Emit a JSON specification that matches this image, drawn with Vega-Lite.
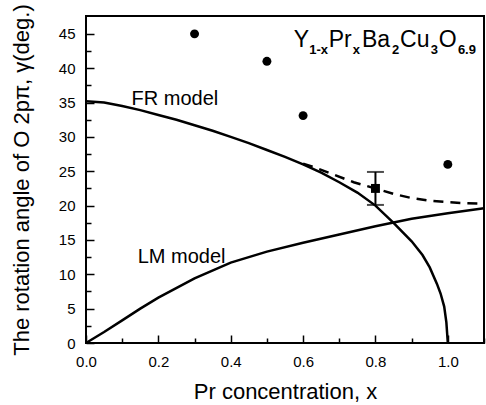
{
  "$schema": "https://vega.github.io/schema/vega-lite/v6.json",
  "width": 398,
  "height": 327,
  "autosize": {"type": "none"},
  "padding": {"left": 86, "top": 16, "right": 2, "bottom": 62},
  "background": "white",
  "config": {
    "font": "Liberation Sans",
    "view": {"stroke": "black", "strokeWidth": 2, "fill": "transparent"},
    "axis": {
      "labelColor": "black",
      "labelFont": "Liberation Sans",
      "labelFontSize": 15,
      "labelFlush": false,
      "titleColor": "black",
      "titleFont": "Liberation Sans",
      "titleFontSize": 22,
      "titleFontWeight": "normal"
    }
  },
  "datasets": {
    "fr": [
      {"x": 0.0, "y": 35.2}, {"x": 0.05, "y": 35.0}, {"x": 0.1, "y": 34.5}, {"x": 0.15, "y": 33.9},
      {"x": 0.2, "y": 33.2}, {"x": 0.25, "y": 32.5}, {"x": 0.3, "y": 31.7}, {"x": 0.35, "y": 30.9},
      {"x": 0.4, "y": 30.0}, {"x": 0.45, "y": 29.1}, {"x": 0.5, "y": 28.1}, {"x": 0.55, "y": 27.1},
      {"x": 0.6, "y": 26.0}, {"x": 0.65, "y": 24.8}, {"x": 0.7, "y": 23.4}, {"x": 0.75, "y": 21.9},
      {"x": 0.8, "y": 20.0}, {"x": 0.85, "y": 17.5}, {"x": 0.9, "y": 14.8}, {"x": 0.93, "y": 12.8},
      {"x": 0.95, "y": 11.0}, {"x": 0.97, "y": 8.6}, {"x": 0.98, "y": 7.2}, {"x": 0.99, "y": 5.3},
      {"x": 0.996, "y": 3.0}, {"x": 1.0, "y": 0.0}
    ],
    "frdash": [
      {"x": 0.6, "y": 26.1}, {"x": 0.63, "y": 25.6}, {"x": 0.68, "y": 24.6}, {"x": 0.74, "y": 23.4},
      {"x": 0.8, "y": 22.5}, {"x": 0.85, "y": 21.7}, {"x": 0.9, "y": 21.1}, {"x": 0.95, "y": 20.7},
      {"x": 1.0, "y": 20.5}, {"x": 1.05, "y": 20.35}, {"x": 1.1, "y": 20.3}
    ],
    "lm": [
      {"x": 0.0, "y": 0.0}, {"x": 0.05, "y": 1.6}, {"x": 0.1, "y": 3.3}, {"x": 0.15, "y": 5.0},
      {"x": 0.2, "y": 6.6}, {"x": 0.3, "y": 9.4}, {"x": 0.4, "y": 11.7}, {"x": 0.5, "y": 13.3},
      {"x": 0.6, "y": 14.6}, {"x": 0.7, "y": 15.8}, {"x": 0.8, "y": 17.0}, {"x": 0.9, "y": 18.1},
      {"x": 1.0, "y": 18.9}, {"x": 1.1, "y": 19.6}
    ],
    "pts": [
      {"x": 0.3, "y": 45.0}, {"x": 0.5, "y": 41.0}, {"x": 0.6, "y": 33.1}, {"x": 1.0, "y": 26.0}
    ],
    "sq": [
      {"x": 0.8, "y": 22.5, "lo": 20.1, "hi": 24.9}
    ],
    "labels": [
      {"x": 0.126, "y": 34.6, "t": "FR model"},
      {"x": 0.143, "y": 11.7, "t": "LM model"}
    ],
    "formula": [
      {"x": 0.5744, "y": 43.1, "t": "Y", "r": "main"},
      {"x": 0.617, "y": 43.1, "t": "1-x", "r": "sub"},
      {"x": 0.6708, "y": 43.1, "t": "Pr", "r": "main"},
      {"x": 0.7375, "y": 43.1, "t": "x", "r": "sub"},
      {"x": 0.7625, "y": 43.1, "t": "Ba", "r": "main"},
      {"x": 0.8458, "y": 43.1, "t": "2", "r": "sub"},
      {"x": 0.868, "y": 43.1, "t": "Cu", "r": "main"},
      {"x": 0.9528, "y": 43.1, "t": "3", "r": "sub"},
      {"x": 0.975, "y": 43.1, "t": "O", "r": "main"},
      {"x": 1.0278, "y": 43.1, "t": "6.9", "r": "sub"}
    ]
  },
  "encoding": {
    "x": {
      "field": "x", "type": "quantitative",
      "scale": {"domain": [0, 1.1], "nice": false, "zero": false},
      "axis": {
        "title": "Pr concentration, x",
        "values": [0, 0.1, 0.2, 0.3, 0.4, 0.5, 0.6, 0.7, 0.8, 0.9, 1.0, 1.1],
        "labelExpr": "abs(round(datum.value*10)) % 2 == 0 ? format(datum.value, '.1f') : ''",
        "domain": false,
        "grid": false,
        "ticks": true,
        "zindex": 1,
        "tickColor": "black",
        "tickWidth": 1.5,
        "tickSize": {"condition": {"test": "abs(round(datum.value*10)) % 2 == 0", "value": -8}, "value": -5},
        "labelPadding": 19,
        "titlePadding": 12
      }
    },
    "y": {
      "field": "y", "type": "quantitative",
      "scale": {"domain": [0, 47.6], "nice": false, "zero": false},
      "axis": {
        "title": "The rotation angle of O 2pπ, γ(deg.)",
        "values": [0, 2.5, 5, 7.5, 10, 12.5, 15, 17.5, 20, 22.5, 25, 27.5, 30, 32.5, 35, 37.5, 40, 42.5, 45],
        "labelExpr": "datum.value % 5 == 0 ? format(datum.value, 'd') : ''",
        "domain": false,
        "grid": false,
        "ticks": true,
        "zindex": 1,
        "tickColor": "black",
        "tickWidth": 1.5,
        "tickSize": {"condition": {"test": "datum.value % 5 == 0", "value": -8}, "value": -5},
        "labelPadding": 19,
        "titlePadding": 25
      }
    }
  },
  "layer": [
    {"data": {"name": "fr"}, "mark": {"type": "line", "color": "black", "strokeWidth": 2.5}},
    {"data": {"name": "frdash"}, "mark": {"type": "line", "color": "black", "strokeWidth": 2.5, "strokeDash": [10, 7]}},
    {"data": {"name": "lm"}, "mark": {"type": "line", "color": "black", "strokeWidth": 2.5}},
    {"data": {"name": "pts"}, "mark": {"type": "point", "shape": "circle", "filled": true, "color": "black", "size": 80, "opacity": 1}},
    {"data": {"name": "sq"}, "mark": {"type": "rule", "color": "black", "strokeWidth": 2}, "encoding": {"y": {"field": "lo", "type": "quantitative"}, "y2": {"field": "hi"}}},
    {"data": {"name": "sq"}, "mark": {"type": "tick", "orient": "horizontal", "color": "black", "size": 17, "thickness": 2}, "encoding": {"y": {"field": "lo", "type": "quantitative"}}},
    {"data": {"name": "sq"}, "mark": {"type": "tick", "orient": "horizontal", "color": "black", "size": 17, "thickness": 2}, "encoding": {"y": {"field": "hi", "type": "quantitative"}}},
    {"data": {"name": "sq"}, "mark": {"type": "point", "shape": "square", "filled": true, "color": "black", "size": 80, "opacity": 1}},
    {"data": {"name": "labels"}, "mark": {"type": "text", "align": "left", "baseline": "alphabetic", "fontSize": 20, "color": "black", "font": "Liberation Sans"}, "encoding": {"text": {"field": "t"}}},
    {"data": {"name": "formula"}, "transform": [{"filter": "datum.r == 'main'"}], "mark": {"type": "text", "align": "left", "baseline": "alphabetic", "fontSize": 23, "color": "black", "font": "Liberation Sans"}, "encoding": {"text": {"field": "t"}}},
    {"data": {"name": "formula"}, "transform": [{"filter": "datum.r == 'sub'"}], "mark": {"type": "text", "align": "left", "baseline": "alphabetic", "fontSize": 13, "dy": 7, "color": "black", "font": "Liberation Sans", "fontWeight": "bold"}, "encoding": {"text": {"field": "t"}}}
  ]
}
